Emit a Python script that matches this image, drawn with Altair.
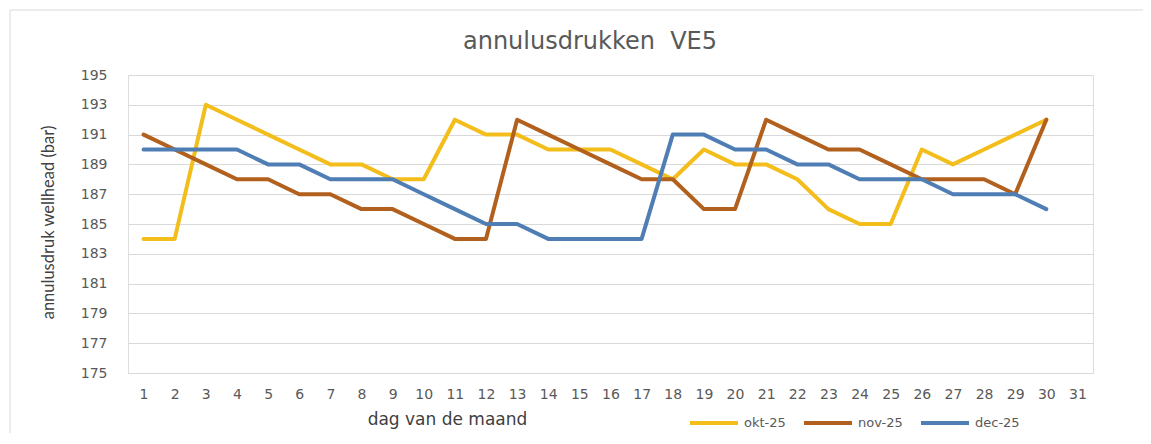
import altair as alt
import pandas as pd

days = list(range(1, 32))
series_names = ["okt-25", "nov-25", "dec-25"]
okt = [184, 184, 193, 192, 191, 190, 189, 189, 188, 188, 192, 191, 191, 190, 190,
       190, 189, 188, 190, 189, 189, 188, 186, 185, 185, 190, 189, 190, 191, 192]
nov = [191, 190, 189, 188, 188, 187, 187, 186, 186, 185, 184, 184, 192, 191, 190,
       189, 188, 188, 186, 186, 192, 191, 190, 190, 189, 188, 188, 188, 187, 192]
dec = [190, 190, 190, 190, 189, 189, 188, 188, 188, 187, 186, 185, 185, 184, 184,
       184, 184, 191, 191, 190, 190, 189, 189, 188, 188, 188, 187, 187, 187, 186]
colors = ["#F3BE1C", "#B2601D", "#4E7EB4"]
y_ticks = list(range(175, 196, 2))
chart_title = "annulusdrukken\u00a0 VE5"

rows = []
for name, vals in zip(series_names, [okt, nov, dec]):
    for d, v in zip(days, vals):
        rows.append({"dag": str(d), "druk": v, "maand": name})
df = pd.DataFrame(rows)

day_labels = [str(d) for d in days]

lines = alt.Chart(df).mark_line(strokeWidth=4, strokeJoin="round", strokeCap="round").encode(
    x=alt.X("dag:O", sort=day_labels,
            scale=alt.Scale(type="point", domain=day_labels, padding=0.5),
            axis=alt.Axis(title="dag van de maand", labelAngle=0, ticks=False, tickSize=0,
                          labelPadding=14, labelFont="DejaVu Sans", labelFontSize=14,
                          labelColor="#595959", domain=True, domainColor="#D9D9D9",
                          grid=False, titleFont="DejaVu Sans", titleFontSize=17,
                          titleFontWeight="normal", titleColor="#404040",
                          titleX=319, titleY=46, titleBaseline="middle", titleAlign="center")),
    y=alt.Y("druk:Q",
            scale=alt.Scale(domain=[175, 195], nice=False, zero=False),
            axis=alt.Axis(title="annulusdruk wellhead (bar)", values=y_ticks, ticks=False,
                          tickSize=0, labelPadding=21, labelFont="DejaVu Sans",
                          labelFontSize=14, labelColor="#595959", domain=False,
                          grid=True, gridColor="#D9D9D9", gridWidth=1,
                          titleFont="Lato", titleFontSize=16.5, titleFontWeight="normal",
                          titleColor="#404040", titleX=-80, titleY=147,
                          titleAlign="center", titleBaseline="middle", titleAngle=270)),
    color=alt.Color("maand:N", sort=series_names,
                    scale=alt.Scale(domain=series_names, range=colors),
                    legend=alt.Legend(title=None, orient="none", direction="horizontal",
                                      legendX=560, legendY=322, symbolType="stroke",
                                      symbolSize=2304, symbolStrokeWidth=4,
                                      labelFont="DejaVu Sans", labelFontSize=13,
                                      labelColor="#595959", labelOffset=4,
                                      columnPadding=10, padding=0)),
    order=alt.Order("dag_num:Q"),
).transform_calculate(dag_num="toNumber(datum.dag)")

frame_data = alt.Data(values=[{"a": 1}])
frame_top = alt.Chart(frame_data).mark_rule(color="#D9D9D9", strokeWidth=1).encode(
    x=alt.value(-118), x2=alt.value(1015), y=alt.value(-65),
)
frame_left = alt.Chart(frame_data).mark_rule(color="#D9D9D9", strokeWidth=1).encode(
    x=alt.value(-118), y=alt.value(-65), y2=alt.value(365),
)

title = alt.Chart(alt.Data(values=[{"t": chart_title}])).mark_text(
    font="DejaVu Sans", fontSize=24, color="#595959", align="center", baseline="middle"
).encode(
    text="t:N", x=alt.value(462), y=alt.value(-33),
)

chart = alt.layer(frame_top, frame_left, lines, title).properties(
    width=965, height=298,
    autosize=alt.AutoSizeParams(type="none"),
    padding={"left": 120, "top": 67, "right": 50, "bottom": 60},
).configure_view(stroke=None).configure(background="white")

chart.save("out.html", embed_options={"renderer": "svg", "actions": False})
